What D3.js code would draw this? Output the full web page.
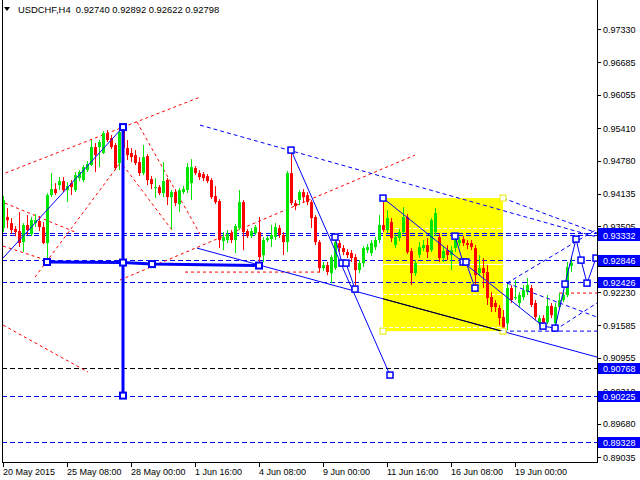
<!DOCTYPE html>
<html><head><meta charset="utf-8">
<script src="https://cdn.jsdelivr.net/npm/d3@7"></script>
<style>
body{margin:0;background:#fff}
svg{display:block}
text{font-family:"Liberation Sans",Arial,sans-serif;font-size:9px}
</style>
</head><body>
<svg id="c" width="640" height="480"></svg>
<script>
// ---------- data ----------
const symbolTitle = "USDCHF,H4  0.92740 0.92892 0.92622 0.92798";
const opens = [
0.93471,0.93685,0.93568,0.93452,0.93413,0.93200,0.93530,0.93355,0.93568,0.93607,
0.93491,0.93181,0.94111,0.94227,0.94305,0.94382,0.94208,0.94343,0.94208,0.94440,
0.94402,0.94595,0.94692,0.95041,0.95041,0.94925,0.95312,0.95216,0.95080,0.94731,
0.95371,0.95022,0.94925,0.94886,0.94750,0.94537,0.94867,0.94421,0.94246,0.94266,
0.94150,0.94402,0.94072,0.94169,0.93937,0.94169,0.94208,0.94343,0.94634,0.94537,
0.94518,0.94479,0.94402,0.94092,0.93995,0.93219,0.93239,0.93375,0.93239,0.93471,
0.93975,0.93413,0.93316,0.93375,0.93394,0.92948,0.93239,0.93258,0.93297,0.93471,
0.93336,0.93200,0.94537,0.93956,0.94014,0.94169,0.94111,0.93975,0.93685,0.93200,
0.92696,0.92754,0.92599,0.92696,0.93181,0.93084,0.93006,0.92987,0.92909,0.92657,
0.92793,0.93045,0.92987,0.93103,0.93239,0.93530,0.93433,0.93588,0.93142,0.93278,
0.93394,0.93685,0.93026,0.92599,0.92948,0.93084,0.93142,0.93045,0.93394,0.93297,
0.92890,0.93045,0.92948,0.93084,0.93181,0.93258,0.93181,0.93181,0.93084,0.92599,
0.92696,0.92619,0.92134,0.92019,0.91923,0.91746,0.91626,0.92308,0.92115,0.92019,
0.92134,0.92231,0.92308,0.92019,0.91626,0.91727,0.91646,0.91962,0.91626,0.91942,
0.92076,0.92173,0.92740];
const highs = [
0.94092,0.93859,0.93665,0.93510,0.93782,0.93568,0.93723,0.93685,0.93743,0.93704,
0.93588,0.94150,0.94537,0.94343,0.94460,0.94460,0.94363,0.94402,0.94557,0.94595,
0.94692,0.94770,0.95177,0.95119,0.95177,0.95351,0.95371,0.95274,0.95119,0.95390,
0.95429,0.95177,0.95022,0.94983,0.94847,0.95080,0.94905,0.94479,0.94440,0.94305,
0.94750,0.94440,0.94208,0.94227,0.94246,0.94285,0.94731,0.94809,0.94673,0.94595,
0.94557,0.94518,0.94440,0.94285,0.94034,0.93394,0.93433,0.93433,0.93549,0.94208,
0.94014,0.93452,0.93471,0.93530,0.93685,0.93297,0.93316,0.93530,0.93568,0.93530,
0.93394,0.94576,0.94983,0.94014,0.94208,0.94227,0.94169,0.94014,0.93723,0.93239,
0.92814,0.92814,0.92948,0.93297,0.93239,0.93142,0.93064,0.93045,0.92967,0.92851,
0.93123,0.93161,0.93239,0.93297,0.93723,0.94053,0.93820,0.93665,0.93355,0.93452,
0.93879,0.93743,0.93084,0.92851,0.93200,0.93239,0.93278,0.93665,0.93859,0.93375,
0.93103,0.93142,0.93123,0.93297,0.93297,0.93316,0.93239,0.93239,0.93142,0.92948,
0.92890,0.92754,0.92231,0.92076,0.91981,0.91882,0.92405,0.92367,0.92464,0.92231,
0.92367,0.92502,0.92367,0.92076,0.91785,0.91785,0.92173,0.92019,0.92019,0.92212,
0.92270,0.92814,0.92892];
const lows = [
0.93394,0.93471,0.93355,0.93316,0.93103,0.93006,0.93336,0.93316,0.93491,0.93413,
0.93161,0.92814,0.94072,0.94111,0.94208,0.94169,0.93975,0.94111,0.94169,0.94382,
0.94363,0.94557,0.94673,0.94557,0.94653,0.94905,0.95138,0.95002,0.94595,0.94595,
0.94789,0.94789,0.94750,0.94692,0.94479,0.94498,0.94305,0.94227,0.94053,0.94111,
0.94072,0.93917,0.93452,0.93898,0.93782,0.94130,0.94150,0.94014,0.94498,0.94402,
0.94382,0.94343,0.94034,0.93937,0.93084,0.93045,0.93181,0.93181,0.92987,0.93433,
0.93045,0.93278,0.93278,0.93336,0.92793,0.92814,0.93200,0.93103,0.93239,0.93278,
0.92948,0.93006,0.93917,0.93820,0.93917,0.93975,0.93917,0.93471,0.93142,0.92619,
0.92638,0.92560,0.92405,0.92657,0.93006,0.92948,0.92890,0.92814,0.92289,0.92599,
0.92715,0.92987,0.92929,0.93045,0.93181,0.93394,0.93375,0.93200,0.93084,0.93219,
0.93355,0.92967,0.92367,0.92541,0.92890,0.93026,0.92890,0.93006,0.93316,0.92814,
0.92814,0.92851,0.92657,0.93006,0.93123,0.93123,0.93064,0.93045,0.92367,0.92541,
0.92308,0.91981,0.91844,0.91844,0.91585,0.91450,0.91490,0.92019,0.92076,0.91942,
0.92076,0.92173,0.91942,0.91684,0.91585,0.91566,0.91607,0.91727,0.91530,0.91904,
0.92038,0.92134,0.92622];
const closes = [
0.94014,0.93626,0.93433,0.93394,0.93181,0.93530,0.93433,0.93626,0.93626,0.93491,
0.93181,0.94111,0.94227,0.94150,0.94382,0.94208,0.94285,0.94266,0.94498,0.94557,
0.94653,0.94712,0.95041,0.94886,0.95138,0.95312,0.95177,0.95041,0.94634,0.95332,
0.95022,0.94886,0.94847,0.94731,0.94537,0.94847,0.94402,0.94324,0.94266,0.94150,
0.94382,0.94072,0.94169,0.93956,0.94208,0.94227,0.94653,0.94653,0.94537,0.94460,
0.94440,0.94382,0.94072,0.93975,0.93239,0.93297,0.93355,0.93239,0.93510,0.93975,
0.93394,0.93316,0.93413,0.93491,0.92909,0.93239,0.93278,0.93336,0.93491,0.93336,
0.93200,0.94537,0.93956,0.93898,0.94169,0.94072,0.93975,0.93665,0.93200,0.92696,
0.92754,0.92619,0.92909,0.93200,0.93084,0.93006,0.92948,0.92890,0.92657,0.92793,
0.93084,0.93103,0.93181,0.93239,0.93530,0.93433,0.93665,0.93278,0.93297,0.93394,
0.93685,0.93006,0.92599,0.92793,0.93103,0.93142,0.93006,0.93626,0.93762,0.92890,
0.93026,0.92948,0.93045,0.93239,0.93239,0.93181,0.93142,0.93103,0.92560,0.92696,
0.92599,0.92115,0.91942,0.91942,0.91727,0.91547,0.92308,0.92076,0.92134,0.92173,
0.92270,0.92367,0.91981,0.91746,0.91727,0.91626,0.91962,0.91785,0.91942,0.92076,
0.92173,0.92715,0.92798];

const priceTicks = [0.97330,0.96685,0.96055,0.95410,0.94780,0.94135,0.93505,0.92230,0.91585,0.90955,0.90310,0.89680,0.89035];
const dateLabels = ["20 May 2015","25 May 08:00","28 May 00:00","1 Jun 16:00","4 Jun 08:00","9 Jun 00:00","11 Jun 16:00","16 Jun 08:00","19 Jun 00:00"];
const dateLabelBars = [0,16,32,48,64,80,96,112,128];

const blueLevels = [0.93385,0.93332,0.92846,0.92426,0.90225,0.89328];
const blackLevels = [0.90768];
const hiddenBoxes = [0.93385];
const priceBoxes = [0.93332,0.92846,0.92426,0.90768,0.90225,0.89328];
const bidBox = 0.92846;

const redDashLines = [
  [[-0.75,0.94498],[49.25,0.96010]],
  [[0.5,0.93956],[18,0.93394]],
  [[0,0.93123],[10,0.92871]],
  [[0,0.91592],[21.25,0.90681]],
  [[8,0.92522],[29.25,0.94731]],
  [[33.5,0.95526],[49.25,0.93355]],
  [[30,0.94692],[42.25,0.93433]],
  [[29.25,0.92464],[103,0.94886]],
  [[45.5,0.92619],[79.25,0.92619]],
  [[139,0.92212],[148.5,0.92212]]
];
const blueDashLines = [
  [[49.25,0.95468],[148.5,0.93297]],
  [[125,0.94053],[148.5,0.93375]],
  [[126,0.92405],[148.5,0.93452]],
  [[126,0.92405],[148.5,0.91746]],
  [[138,0.91495],[148.5,0.92019]],
  [[125,0.91475],[148.5,0.91475]]
];
const blueThinLines = [
  [[0,0.92890],[30,0.95429]],
  [[48.5,0.93084],[148.5,0.90971]],
  [[72,0.94983],[96.75,0.90623]],
  [[83,0.93297],[84.75,0.92793],[85.75,0.92793],[88,0.92289]],
  [[95,0.94053],[135,0.91572]],
  [[113,0.93316],[115,0.92814],[115.75,0.92814],[118,0.92308]],
  [[135,0.91572],[138,0.91533],[140.5,0.92386],[143.25,0.93258],[144.5,0.92851],[146,0.92405],[148.25,0.92890]]
];
const blueThickLines = [
  [[30,0.95429],[30,0.90225]],
  [[11,0.92814],[30,0.92803],[37.25,0.92774],[64,0.92745]]
];
const thickSquares = [[11,0.92814],[30,0.95429],[30,0.92803],[37.25,0.92774],[30,0.90225],[64,0.92745]];
const thinSquares = [[72,0.94983],[96.75,0.90623],[88,0.92289],[83,0.93297],[84.75,0.92793],[85.75,0.92793],
  [95,0.94053],[113,0.93316],[115,0.92814],[115.75,0.92814],[118,0.92308],
  [135,0.91572],[138,0.91533],[140.5,0.92386],[143.25,0.93258],[144.5,0.92851],[146,0.92405],[148.25,0.92890]];
const boxBars = [95,125];
const boxPrices = [0.91475,0.94053];
const boxInnerLevels = [0.93471,0.92193,0.91553];
const boxInnerSolid = [0.92773];

// ---------- scales ----------
const svg = d3.select("#c");
const x = d3.scaleLinear().domain([0,148.5]).range([3,597]);
const y = d3.scaleLinear().domain([0.89035,0.97330]).range([457,29]);
const line = d3.line().x(d=>x(d[0])).y(d=>y(d[1]));

svg.append("rect").attr("width",640).attr("height",480).attr("fill","#fff");
svg.append("defs").append("clipPath").attr("id","plot")
  .append("rect").attr("x",2).attr("y",0).attr("width",595).attr("height",463);
svg.select("defs").append("clipPath").attr("id","ybox")
  .append("rect").attr("x",x(boxBars[0])).attr("y",y(boxPrices[1]))
  .attr("width",x(boxBars[1])-x(boxBars[0])).attr("height",y(boxPrices[0])-y(boxPrices[1]));

const plot = svg.append("g").attr("clip-path","url(#plot)");

// yellow box
plot.append("rect").attr("x",x(boxBars[0])).attr("y",y(boxPrices[1]))
  .attr("width",x(boxBars[1])-x(boxBars[0])).attr("height",y(boxPrices[0])-y(boxPrices[1]))
  .attr("fill","#ffff00");
plot.selectAll(".bi").data(boxInnerLevels).join("line")
  .attr("x1",x(boxBars[0])).attr("x2",x(boxBars[1]))
  .attr("y1",d=>Math.round(y(d))+0.5).attr("y2",d=>Math.round(y(d))+0.5)
  .attr("stroke","#fff").attr("stroke-dasharray","4,2");
plot.selectAll(".bs").data(boxInnerSolid).join("line")
  .attr("x1",x(boxBars[0])).attr("x2",x(boxBars[1]))
  .attr("y1",d=>Math.round(y(d))+0.5).attr("y2",d=>Math.round(y(d))+0.5)
  .attr("stroke","#fff");

// horizontal levels
plot.selectAll(".bl").data(blueLevels).join("line")
  .attr("x1",2).attr("x2",597)
  .attr("y1",d=>Math.round(y(d))+0.5).attr("y2",d=>Math.round(y(d))+0.5)
  .attr("stroke","#0000ff").attr("stroke-dasharray","5,3");
plot.selectAll(".kl").data(blackLevels).join("line")
  .attr("x1",2).attr("x2",597)
  .attr("y1",d=>Math.round(y(d))+0.5).attr("y2",d=>Math.round(y(d))+0.5)
  .attr("stroke","#000").attr("stroke-dasharray","5,3");

// red dashed lines
plot.selectAll(".rd").data(redDashLines).join("path")
  .attr("d",line).attr("fill","none").attr("stroke","#ff0000").attr("stroke-dasharray","3,3");

// candles
const idx = d3.range(opens.length);
const up = i => closes[i] >= opens[i];
const col = i => up(i) ? "#00e600" : "#ff0000";
plot.selectAll(".wick").data(idx).join("line")
  .attr("x1",i=>x(i)+0.5).attr("x2",i=>x(i)+0.5)
  .attr("y1",i=>y(highs[i])).attr("y2",i=>y(lows[i]))
  .attr("stroke",col);
plot.selectAll(".body").data(idx).join("rect")
  .attr("x",i=>x(i)-1).attr("width",3)
  .attr("y",i=>Math.min(y(opens[i]),y(closes[i])))
  .attr("height",i=>Math.max(1,Math.abs(y(opens[i])-y(closes[i]))))
  .attr("fill",col);

// blue dashed lines
plot.selectAll(".bd").data(blueDashLines).join("path")
  .attr("d",line).attr("fill","none").attr("stroke","#0000ff").attr("stroke-dasharray","4,3");
// blue thin lines
plot.selectAll(".bt").data(blueThinLines).join("path")
  .attr("d",line).attr("fill","none").attr("stroke","#0000ff").attr("stroke-width",1);
// black portion inside the yellow box
svg.append("g").attr("clip-path","url(#ybox)")
  .append("path").datum(blueThinLines[1]).attr("d",line)
  .attr("fill","none").attr("stroke","#000").attr("stroke-width",1);
// thick lines
plot.selectAll(".bk").data(blueThickLines).join("path")
  .attr("d",line).attr("fill","none").attr("stroke","#0000ff").attr("stroke-width",3);

// squares
plot.selectAll(".sq1").data(thickSquares).join("rect")
  .attr("x",d=>x(d[0])-3).attr("y",d=>y(d[1])-3).attr("width",6).attr("height",6)
  .attr("fill","#fff").attr("stroke","#0000ff").attr("stroke-width",2);
plot.selectAll(".sq2").data(thinSquares).join("rect")
  .attr("x",d=>x(d[0])-3).attr("y",d=>y(d[1])-3).attr("width",6).attr("height",6)
  .attr("fill","#fff").attr("stroke","#0000ff").attr("stroke-width",1.5);
const cornerPts = [[boxBars[1],boxPrices[1]],[boxBars[0],boxPrices[0]],[boxBars[1],boxPrices[0]]];
plot.selectAll(".sq3").data(cornerPts).join("rect")
  .attr("x",d=>x(d[0])-3).attr("y",d=>y(d[1])-3).attr("width",6).attr("height",6)
  .attr("fill","#fff").attr("stroke","#e8e800").attr("stroke-width",1);

// ---------- axes ----------
svg.append("line").attr("x1",2.5).attr("x2",2.5).attr("y1",0).attr("y2",463).attr("stroke","#000");
svg.append("line").attr("x1",597.5).attr("x2",597.5).attr("y1",0).attr("y2",463).attr("stroke","#000");
svg.append("line").attr("x1",2).attr("x2",598).attr("y1",462.5).attr("y2",462.5).attr("stroke","#000");

const pt = svg.append("g");
pt.selectAll("line").data(priceTicks).join("line")
  .attr("x1",597).attr("x2",601).attr("y1",d=>Math.round(y(d))+0.5).attr("y2",d=>Math.round(y(d))+0.5)
  .attr("stroke","#000");
pt.selectAll("text").data(priceTicks).join("text")
  .attr("x",603).attr("y",d=>y(d)+3.5).text(d=>d.toFixed(5)).attr("fill","#000");

svg.append("g").selectAll("rect").data(hiddenBoxes).join("rect")
  .attr("x",598).attr("y",d=>Math.round(y(d))-5).attr("width",42).attr("height",11)
  .attr("fill","#0000ff");
const pb = svg.append("g");
pb.selectAll("rect").data(priceBoxes).join("rect")
  .attr("x",598).attr("y",d=>Math.round(y(d))-5).attr("width",42).attr("height",11)
  .attr("fill","#0000ff");
pb.selectAll("text").data(priceBoxes).join("text")
  .attr("x",603).attr("y",d=>Math.round(y(d))+4).text(d=>d.toFixed(5)).attr("fill","#fff");
svg.append("line").attr("x1",598).attr("x2",640)
  .attr("y1",Math.round(y(bidBox))+6.5).attr("y2",Math.round(y(bidBox))+6.5).attr("stroke","#000");

const dt = svg.append("g");
dt.selectAll("line").data(dateLabelBars).join("line")
  .attr("x1",d=>x(d)+0.5).attr("x2",d=>x(d)+0.5).attr("y1",463).attr("y2",467).attr("stroke","#000");
dt.selectAll("text").data(dateLabelBars).join("text")
  .attr("x",d=>x(d)).attr("y",475).text((d,k)=>dateLabels[k]).attr("fill","#000");

// title
svg.append("path").attr("d","M4,7 L10,7 L7,11 Z").attr("fill","#000");
svg.append("text").attr("x",18).attr("y",13).attr("fill","#000").attr("xml:space","preserve")
  .style("white-space","pre").style("font-size","9.4px").text(symbolTitle);
</script>
</body></html>
